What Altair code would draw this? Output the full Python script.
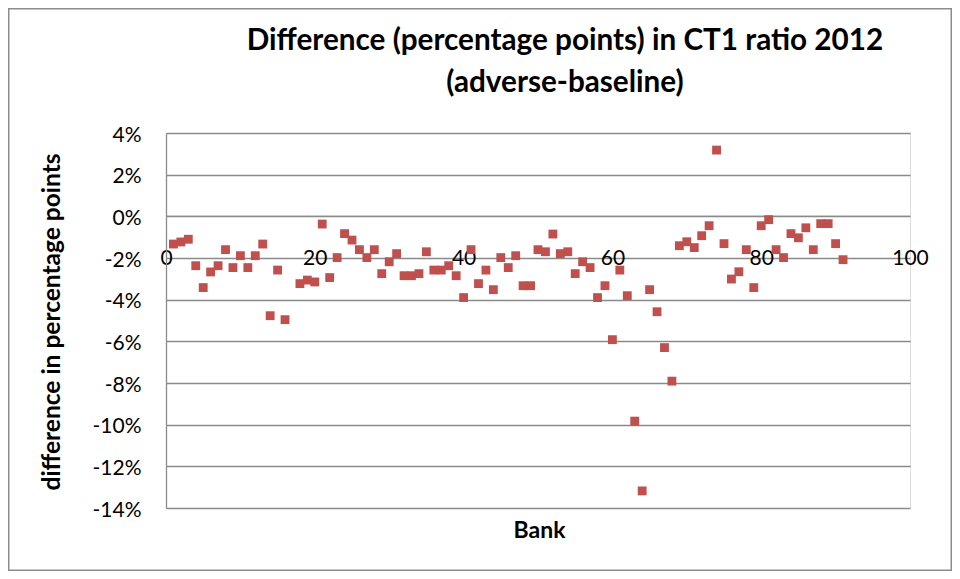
import altair as alt
import pandas as pd

# Bank index and difference (percentage points) in CT1 ratio 2012, adverse - baseline
banks = [1, 2, 3, 4, 5, 6, 7, 8, 9, 10, 11, 12, 13, 14, 15, 16, 18, 19, 20, 21,
         22, 23, 24, 25, 26, 27, 28, 29, 30, 31, 32, 33, 34, 35, 36, 37, 38, 39, 40, 41,
         42, 43, 44, 45, 46, 47, 48, 49, 50, 51, 52, 53, 54, 55, 56, 57, 58, 59, 60, 61,
         62, 63, 64, 65, 66, 67, 68, 69, 70, 71, 72, 73, 74, 75, 76, 77, 78, 79, 80, 81,
         82, 83, 84, 85, 86, 87, 88, 89, 90, 91]
diff_pct = [-1.33, -1.23, -1.10, -2.37, -3.42, -2.67, -2.37, -1.60, -2.46, -1.89,
            -2.46, -1.89, -1.33, -4.77, -2.58, -4.96, -3.23, -3.06, -3.15, -0.37,
            -2.94, -1.98, -0.83, -1.14, -1.60, -1.98, -1.60, -2.75, -2.18, -1.79,
            -2.85, -2.85, -2.75, -1.70, -2.58, -2.58, -2.37, -2.85, -3.90, -1.60,
            -3.23, -2.58, -3.52, -1.98, -2.46, -1.89, -3.33, -3.33, -1.60, -1.70,
            -0.85, -1.79, -1.70, -2.75, -2.18, -2.46, -3.90, -3.33, -5.92, -2.58,
            -3.81, -9.83, -13.18, -3.52, -4.58, -6.30, -7.91, -1.41, -1.22, -1.50,
            -0.93, -0.45, 3.18, -1.31, -3.01, -2.66, -1.60, -3.42, -0.45, -0.16,
            -1.60, -1.98, -0.83, -1.03, -0.55, -1.60, -0.35, -0.35, -1.31, -2.08]

x_ticks = [0, 20, 40, 60, 80, 100]
y_ticks = [0.04, 0.02, 0.0, -0.02, -0.04, -0.06, -0.08, -0.10, -0.12, -0.14]

df = pd.DataFrame({"Bank": banks, "diff": [v / 100 for v in diff_pct]})

FONT = "Lato"
GRID = "#8a8a8a"
W, H = 744, 375

points = alt.Chart(df).mark_square(size=78, color="#C0504D", opacity=1).encode(
    x=alt.X("Bank:Q",
            scale=alt.Scale(domain=[0, 100], nice=False, zero=False),
            axis=alt.Axis(values=x_ticks, grid=False, ticks=False, domain=False,
                          labelFont=FONT, labelFontSize=21, labelColor="black",
                          labelBaseline="middle", labelPadding=42, labelFlush=False,
                          offset=-(H - H * 0.04 / 0.18),
                          title="Bank", titleFont=FONT, titleFontSize=23,
                          titleFontWeight="bold", titleColor="black",
                          titleBaseline="middle", titleY=314, titleX=W / 2 + 1)),
    y=alt.Y("diff:Q",
            scale=alt.Scale(domain=[-0.14, 0.04], nice=False, zero=False),
            axis=alt.Axis(values=y_ticks, grid=True, gridColor=GRID,
                          labelExpr="(datum.value < 0 ? '-' : '') + format(abs(datum.value) * 100, '.0f') + '%'",
                          gridWidth=1.3, ticks=False, domain=True, domainColor=GRID,
                          domainWidth=1.3,
                          labelFont=FONT, labelFontSize=21, labelColor="black",
                          labelPadding=25, labelOffset=2,
                          title="difference in percentage points", titleFont=FONT,
                          titleFontSize=24.5, titleFontWeight="bold", titleColor="black",
                          titleAngle=270, titleBaseline="middle", titleAlign="center",
                          titleX=-114, titleY=H / 2 + 1)),
)

zero_line = alt.Chart(pd.DataFrame({"z": [0.0]})).mark_rule(color=GRID, strokeWidth=1.3).encode(
    y=alt.Y("z:Q", scale=alt.Scale(domain=[-0.14, 0.04], nice=False, zero=False))
)

frame = alt.Chart(pd.DataFrame({"a": [0]})).mark_rect(
    fill=None, stroke="#8c8c8c", strokeWidth=1.5
).encode(
    x=alt.value(-157.25), x2=alt.value(785.25),
    y=alt.value(-124.25), y2=alt.value(437.25)
)

chart = alt.layer(zero_line, points, frame).properties(
    width=W, height=H,
    title=alt.TitleParams(
        text=["Difference (percentage points) in CT1 ratio 2012", "(adverse-baseline)"],
        font=FONT, fontSize=29.7, fontWeight="bold", color="black",
        anchor="middle", frame="group", dx=27, offset=-90.5, lineHeight=41.5,
    ),
    autosize=alt.AutoSizeParams(type="none"),
    padding={"left": 158, "top": 125, "right": 42, "bottom": 63},
).configure_view(stroke=None).configure(background="white")

chart.save("out.html", embed_options={"renderer": "svg", "actions": False})
